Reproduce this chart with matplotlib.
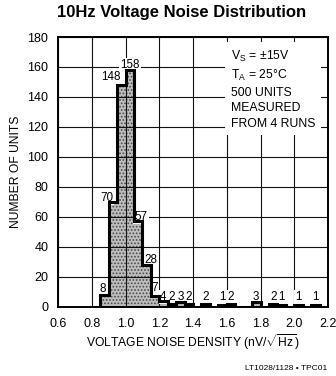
import matplotlib.pyplot as plt
import numpy as np
from matplotlib import rcParams

# fonts
rcParams['font.family'] = ['Liberation Sans', 'DejaVu Sans']
rcParams['mathtext.fontset'] = 'custom'
rcParams['mathtext.rm'] = 'Liberation Sans'
rcParams['mathtext.it'] = 'Liberation Sans'
rcParams['hatch.linewidth'] = 0.8

# histogram data: 0.05 nV/rtHz bins from 0.85 to 2.15
bin_start = 0.85
bin_width = 0.05
counts = [8, 70, 148, 158, 57, 28, 7, 4, 2, 3, 2, 0, 2, 0, 1, 2, 0, 0, 3, 0, 2, 1, 0, 1, 0, 1]

x_ticks = [0.6, 0.8, 1.0, 1.2, 1.4, 1.6, 1.8, 2.0, 2.2]
y_ticks = list(range(0, 181, 20))

# label nudges (x in data units, y in counts) for the count labels
label_dx = {0: -0.01, 1: -0.036, 2: -0.064, 3: 0.0, 4: 0.017, 5: 0.027}
label_dy = {0: 1.5, 1: 0.5, 2: 3.0, 3: 1.5, 4: 1.0, 5: 1.0, 6: 3.5}

counts = np.array(counts)
edges = bin_start + bin_width * np.arange(len(counts) + 1)
centers = edges[:-1] + bin_width / 2

fig = plt.figure(figsize=(3.36, 3.76), dpi=100)
ax = fig.add_axes([58 / 336, 1 - 306.5 / 376, 270 / 336, 269.5 / 376])

# stippled fill
ax.bar(centers, counts, width=bin_width, color='#bdbdbd', edgecolor='#4a4a4a',
       linewidth=0, hatch='.....', zorder=1)
# heavy outline
ax.stairs(counts, edges, color='black', linewidth=2.2, baseline=0, zorder=4)

ax.set_xlim(0.6, 2.2)
ax.set_ylim(0, 180)
ax.set_xticks(x_ticks)
ax.set_xticklabels(['%.1f' % t for t in x_ticks])
ax.set_yticks(y_ticks)
ax.grid(True, color='#111111', linewidth=0.8, zorder=2)
ax.set_axisbelow(False)
for s in ax.spines.values():
    s.set_linewidth(1.4)
    s.set_zorder(5)
ax.tick_params(axis='both', length=0, labelsize=9)
ax.tick_params(axis='y', pad=7)
ax.tick_params(axis='x', pad=8)

for i, c in enumerate(counts):
    if c == 0:
        continue
    x = centers[i] + label_dx.get(i, 0.0)
    y = c + label_dy.get(i, 0.0) if c > 4 else 4.3
    ax.text(x, y, str(c), ha='center', va='baseline', fontsize=8.4, zorder=3,
            bbox=dict(boxstyle='square,pad=0.1', fc='white', ec='none'))

ax.text(1.625, 172, '$\\mathregular{V_S}$ = ±15V\n$\\mathregular{T_A}$ = 25°C\n500 UNITS\nMEASURED\nFROM 4 RUNS',
        ha='left', va='top', fontsize=8.8, linespacing=1.38, zorder=3,
        bbox=dict(boxstyle='square,pad=0.45', fc='white', ec='none'))

ax.set_xlabel('VOLTAGE NOISE DENSITY (nV/$\\sqrt{\\mathrm{Hz}}$)', fontsize=8.7, labelpad=2)
ax.set_ylabel('NUMBER OF UNITS', fontsize=8.7, labelpad=4)

fig.text(181.5 / 336, 1 - 13 / 376, '10Hz Voltage Noise Distribution',
         ha='center', va='center', fontsize=12, fontweight='bold')
fig.text(327 / 336, 1 - 368 / 376, 'LT1028/1128 • TPC01', ha='right', va='center', fontsize=6)

fig.savefig('out.png', dpi=100)
